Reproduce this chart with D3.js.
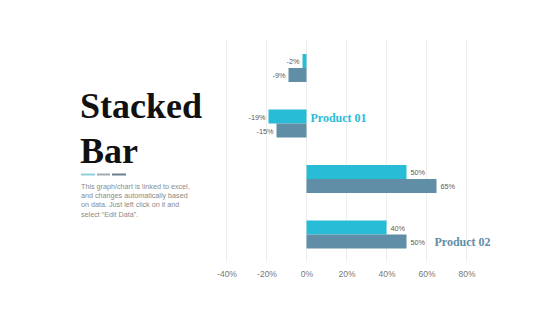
<!DOCTYPE html>
<html lang="en">
<head>
  <meta charset="UTF-8">
  <title>Stacked Bar</title>
  <style>
    body { margin: 0; background: #fff; }
    svg text { font-family: "Liberation Sans", Arial, sans-serif; }
  </style>
</head>
<body>
  <svg></svg>
<script src="https://cdn.jsdelivr.net/npm/d3@7"></script>
<script>
  var categories = ['c1', 'c2', 'c3', 'c4']
  var product01 = [-2, -19, 50, 40]
  var product02 = [-9, -15, 65, 50]
  var ticks = [-40, -20, 0, 20, 40, 60, 80]
  var seriesNames = ['Product 01', 'Product 02']
  var colors = ['#29bcd7', '#5f8ea6']
  var descLines = ['This graph/chart is linked to excel,', 'and changes automatically based',
    'on data. Just left click on it and', 'select \u201cEdit Data\u201d.']

  var svg = d3.select('svg').attr('width', 560).attr('height', 315)
  var serif = '"Liberation Serif", "Times New Roman", serif'

  // left title block
  svg.selectAll('.title').data(['Stacked', 'Bar']).enter().append('text')
    .attr('x', 80).attr('y', (d, i) => 118 + i * 45).text(d => d)
    .style('font-family', serif).style('font-weight', 'bold')
    .style('font-size', '36px').attr('fill', '#111')

  var dashes = [['#8fd0de', 81, 95], ['#a3abb1', 97, 110], ['#6a808d', 112, 126]]
  svg.selectAll('.dash').data(dashes).enter().append('line')
    .attr('x1', d => d[1]).attr('x2', d => d[2]).attr('y1', 174.5).attr('y2', 174.5)
    .attr('stroke', d => d[0]).attr('stroke-width', 2)

  svg.selectAll('.desc').data(descLines).enter().append('text')
    .attr('x', 81).attr('y', (d, i) => 189 + i * 9.2)
    .text(d => d).attr('fill', '#8a8a8a').style('font-size', '7.2px')

  // chart
  var x = d3.scaleLinear().domain([-40, 80]).range([226.5, 466.5])
  var y = d3.scaleBand().domain(categories).range([54, 276]).paddingInner(0)
  var barH = 14

  svg.selectAll('.grid').data(ticks).enter().append('line')
    .attr('x1', d => x(d)).attr('x2', d => x(d)).attr('y1', 40).attr('y2', 262)
    .attr('stroke', '#eeeeee').attr('stroke-width', 1)

  var series = [product01, product02]
  series.forEach(function (vals, s) {
    svg.selectAll('.bar' + s).data(vals).enter().append('rect')
      .attr('x', d => x(Math.min(0, d)))
      .attr('width', d => Math.abs(x(d) - x(0)))
      .attr('y', (d, i) => y(categories[i]) + s * barH)
      .attr('height', barH)
      .attr('fill', colors[s])

    svg.selectAll('.lab' + s).data(vals).enter().append('text')
      .attr('x', d => d < 0 ? x(d) - 3 : x(d) + 4)
      .attr('y', (d, i) => y(categories[i]) + s * barH + barH / 2 + 3)
      .attr('text-anchor', d => d < 0 ? 'end' : 'start')
      .text(d => d + '%')
      .attr('fill', '#5a5a5a').style('font-size', '7.3px')
  })

  var axis = svg.append('g').attr('transform', 'translate(0,262)')
    .call(d3.axisBottom(x).tickValues(ticks).tickFormat(d => d + '%').tickSize(0).tickPadding(9))
  axis.select('.domain').remove()
  axis.selectAll('text').attr('fill', '#777').style('font-size', '8.5px')
    .style('font-family', '"Liberation Sans", Arial, sans-serif')

  // series labels
  svg.append('text').attr('x', x(0) + 4).attr('y', y(categories[1]) + barH / 2 + 5)
    .text(seriesNames[0]).attr('fill', colors[0])
    .style('font-family', serif).style('font-weight', 'bold').style('font-size', '12px')
  svg.append('text').attr('x', x(50) + 28).attr('y', y(categories[3]) + barH * 1.5 + 4)
    .text(seriesNames[1]).attr('fill', colors[1])
    .style('font-family', serif).style('font-weight', 'bold').style('font-size', '12px')
</script>
</body>
</html>
